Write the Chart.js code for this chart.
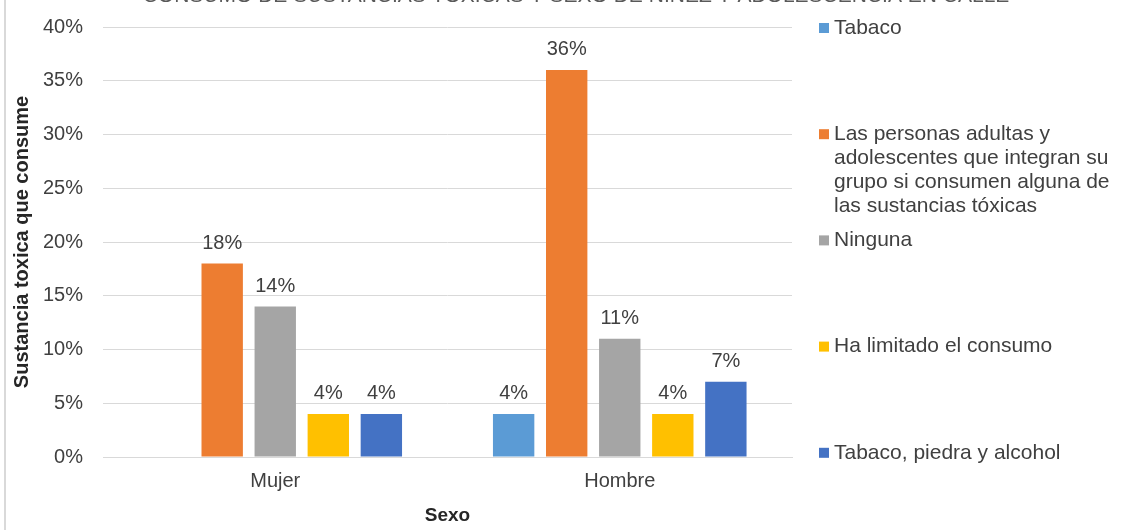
<!DOCTYPE html>
<html>
<head>
    <meta charset="utf-8">
    <title>Consumo de sustancias tóxicas</title>
    <style>
        body { margin: 0; background: #fff; }
        #wrap { position: relative; width: 1131px; height: 531px; }
        #frame { position: absolute; left: 4px; top: 0; width: 2px; height: 530px; background: #d9d9d9; }
    </style>
</head>
<body>
<div id="wrap">
    <canvas id="chart"></canvas>
    <div id="frame"></div>
</div>

<script src="https://cdn.jsdelivr.net/npm/chart.js"></script>
<script>
    const title = 'CONSUMO DE SUSTANCIAS TÓXICAS Y SEXO DE NIÑEZ Y ADOLESCENCIA EN CALLE';
    const categories = ['Mujer', 'Hombre'];
    const seriesNames = [
        'Tabaco',
        'Las personas adultas y adolescentes que integran su grupo si consumen alguna de las sustancias tóxicas',
        'Ninguna',
        'Ha limitado el consumo',
        'Tabaco, piedra y alcohol'
    ];
    const tabaco = [null, 4];
    const grupoConsume = [18, 36];
    const ninguna = [14, 11];
    const limitado = [4, 4];
    const tabacoPiedraAlcohol = [4, 7];
    const colors = ['#5b9bd5', '#ed7d31', '#a5a5a5', '#ffc000', '#4472c4'];

    const FONT = '"Liberation Sans", Arial, sans-serif';

    const valueLabels = {
        id: 'valueLabels',
        afterDatasetsDraw(chart) {
            const ctx = chart.ctx;
            ctx.save();
            ctx.font = '20px ' + FONT;
            ctx.fillStyle = '#404040';
            ctx.textAlign = 'center';
            ctx.textBaseline = 'alphabetic';
            chart.data.datasets.forEach((ds, i) => {
                chart.getDatasetMeta(i).data.forEach((bar, j) => {
                    const v = ds.data[j];
                    if (v == null) return;
                    ctx.fillText(v + '%', bar.x, bar.y - 15);
                });
            });
            ctx.restore();
        }
    };

    function wrapText(ctx, text, maxWidth) {
        const words = text.split(' ');
        const lines = [];
        let line = '';
        words.forEach(w => {
            const test = line ? line + ' ' + w : w;
            if (ctx.measureText(test).width > maxWidth && line) {
                lines.push(line);
                line = w;
            } else {
                line = test;
            }
        });
        lines.push(line);
        return lines;
    }

    const sideLegend = {
        id: 'sideLegend',
        afterDraw(chart) {
            const ctx = chart.ctx;
            ctx.save();
            ctx.font = '21px ' + FONT;
            ctx.textBaseline = 'middle';
            ctx.textAlign = 'left';
            chart.data.datasets.forEach((ds, i) => {
                const y0 = 28 + i * 106.2;
                ctx.fillStyle = ds.backgroundColor;
                ctx.fillRect(819, y0 - 5, 10, 10);
                ctx.fillStyle = '#404040';
                wrapText(ctx, ds.label, 292).forEach((ln, k) => {
                    ctx.fillText(ln, 834, y0 + k * 24);
                });
            });
            ctx.restore();
        }
    };

    const topTitle = {
        id: 'topTitle',
        afterDraw(chart) {
            const ctx = chart.ctx;
            ctx.save();
            ctx.font = '21px ' + FONT;
            ctx.fillStyle = '#595959';
            ctx.textAlign = 'center';
            ctx.textBaseline = 'alphabetic';
            ctx.fillText(title, 576, 2);
            ctx.restore();
        }
    };

    const seriesData = [tabaco, grupoConsume, ninguna, limitado, tabacoPiedraAlcohol];

    new Chart(document.getElementById('chart'), {
        type: 'bar',
        data: {
            labels: categories,
            datasets: seriesNames.map((name, i) => ({
                label: name,
                data: seriesData[i],
                backgroundColor: colors[i],
                barPercentage: 0.78,
                categoryPercentage: 0.77
            }))
        },
        options: {
            responsive: true,
            maintainAspectRatio: false,
            animation: false,
            layout: { padding: { top: 27, right: 339, bottom: 0, left: 0 } },
            plugins: {
                legend: { display: false },
                tooltip: { enabled: false }
            },
            scales: {
                x: {
                    grid: { display: false, drawTicks: false },
                    border: { color: '#d9d9d9' },
                    ticks: { color: '#404040', font: { family: FONT, size: 20 }, padding: 12 },
                    title: {
                        display: true, text: 'Sexo', color: '#262626',
                        font: { family: FONT, size: 19, weight: 'bold' },
                        padding: { top: 0, bottom: 4 }
                    },
                    afterFit(scale) { scale.height = 74; }
                },
                y: {
                    min: 0, max: 40,
                    grid: { color: '#d9d9d9', drawTicks: false },
                    border: { display: false },
                    ticks: {
                        stepSize: 5, padding: 20, color: '#404040',
                        font: { family: FONT, size: 20 },
                        callback: v => v + '%'
                    },
                    title: {
                        display: true, text: 'Sustancia toxica que consume', color: '#262626',
                        font: { family: FONT, size: 20, weight: 'bold' },
                        padding: { top: 10, bottom: 0 }
                    },
                    afterFit(scale) {
                        scale.width = 103;
                        scale.paddingTop = 12;
                        scale.paddingBottom = 12;
                    }
                }
            }
        },
        plugins: [valueLabels, sideLegend, topTitle]
    });
</script>
</body>
</html>
